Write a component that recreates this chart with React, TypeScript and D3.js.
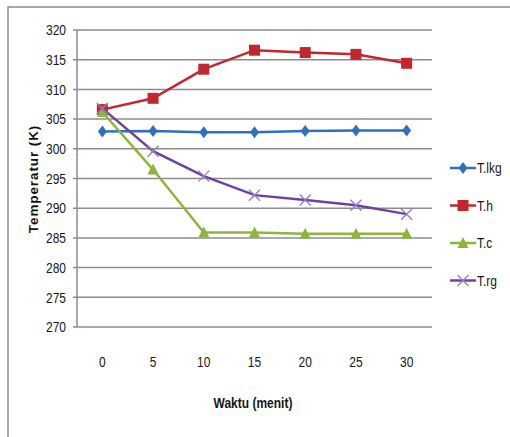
import React from "react";
import * as d3 from "d3";

const categories = ["0", "5", "10", "15", "20", "25", "30"];
const yTicks = [270, 275, 280, 285, 290, 295, 300, 305, 310, 315, 320];
const seriesNames = ["T.lkg", "T.h", "T.c", "T.rg"];
const tLkg = [302.9, 303.0, 302.8, 302.8, 303.0, 303.1, 303.1];
const tH = [306.6, 308.5, 313.4, 316.6, 316.2, 315.9, 314.4];
const tC = [306.2, 296.5, 285.9, 285.9, 285.7, 285.7, 285.7];
const tRg = [306.8, 299.6, 295.4, 292.2, 291.4, 290.5, 289.0];
const colors = ["#2f6fbc", "#c1272d", "#8db53b", "#7042a0"];
const markerColors = ["#2f6fbc", "#c1272d", "#8db53b", "#9a7cc4"];

const W = 510;
const H = 437;
const FONT = "'Liberation Sans', Arial, sans-serif";
const SQUEEZE = 0.8;

function Marker({ kind, x, y, color }: { kind: number; x: number; y: number; color: string }) {
  if (kind === 0) {
    const s = 6;
    return <path d={`M${x},${y - s} L${x + 4.5},${y} L${x},${y + s} L${x - 4.5},${y} Z`} fill={color} />;
  }
  if (kind === 1) {
    return <rect x={x - 5.5} y={y - 5.5} width={11} height={11} fill={color} />;
  }
  if (kind === 2) {
    return <path d={`M${x},${y - 6} L${x + 5.5},${y + 5} L${x - 5.5},${y + 5} Z`} fill={color} />;
  }
  const s = 5.5;
  return (
    <path
      d={`M${x - s},${y - s} L${x + s},${y + s} M${x - s},${y + s} L${x + s},${y - s}`}
      stroke={color}
      strokeWidth={1.4}
      fill="none"
    />
  );
}

// Narrow label: horizontally compressed text anchored at (x, y)
function NText({
  x,
  y,
  anchor,
  size,
  bold,
  rotate,
  children,
}: {
  x: number;
  y: number;
  anchor: "start" | "middle" | "end";
  size: number;
  bold?: boolean;
  rotate?: boolean;
  children: React.ReactNode;
}) {
  const t = rotate
    ? `translate(${x},${y}) rotate(-90) scale(${SQUEEZE},1)`
    : `translate(${x},${y}) scale(${SQUEEZE},1)`;
  return (
    <text
      transform={t}
      textAnchor={anchor}
      dy="0.35em"
      fontSize={size}
      fontWeight={bold ? "bold" : "normal"}
      fill="#161616"
    >
      {children}
    </text>
  );
}

export default function App() {
  const x = d3.scaleBand<string>().domain(categories).range([77, 432]);
  const y = d3.scaleLinear().domain([270, 320]).range([327, 30]);
  const cx = (c: string) => (x(c) as number) + x.bandwidth() / 2;
  const series = [tLkg, tH, tC, tRg];
  const line = d3
    .line<number>()
    .x((_, i) => cx(categories[i]))
    .y((v) => y(v));

  return (
    <svg
      width={W}
      height={H}
      style={{ position: "absolute", left: 0, top: 0, background: "#fff" }}
      fontFamily={FONT}
    >
      <rect x={0} y={0} width={W} height={H} fill="#fff" />
      <rect x={8} y={7} width={W} height={H} fill="none" stroke="#8a8a8a" strokeWidth={1.5} />

      {yTicks.map((t) => (
        <g key={t}>
          <line x1={73} x2={432} y1={y(t)} y2={y(t)} stroke="#8c8c8c" strokeWidth={1.5} />
          <NText x={66} y={y(t)} anchor="end" size={15}>
            {t}
          </NText>
        </g>
      ))}
      <line x1={77} x2={77} y1={y(320)} y2={y(270)} stroke="#8c8c8c" strokeWidth={1.5} />

      {categories.map((c) => (
        <NText key={c} x={cx(c)} y={362} anchor="middle" size={15}>
          {c}
        </NText>
      ))}

      <NText x={253} y={403} anchor="middle" size={15} bold>
        Waktu (menit)
      </NText>
      <text
        transform={`translate(33,179) rotate(-90)`}
        textAnchor="middle"
        dy="0.35em"
        fontSize={13.5}
        fontWeight="bold"
        letterSpacing={0.9}
        fill="#111"
      >
        Temperatur (K)
      </text>

      {series.map((vals, si) => (
        <g key={si}>
          <path d={line(vals) as string} fill="none" stroke={colors[si]} strokeWidth={2.5} />
          {vals.map((v, i) => (
            <Marker key={i} kind={si} x={cx(categories[i])} y={y(v)} color={markerColors[si]} />
          ))}
        </g>
      ))}

      {seriesNames.map((n, i) => {
        const ly = 168 + i * 37.5;
        return (
          <g key={n}>
            <line x1={450} x2={476} y1={ly} y2={ly} stroke={colors[i]} strokeWidth={2.5} />
            <Marker kind={i} x={463} y={ly} color={markerColors[i]} />
            <NText x={477} y={ly} anchor="start" size={15}>
              {n}
            </NText>
          </g>
        );
      })}
    </svg>
  );
}
